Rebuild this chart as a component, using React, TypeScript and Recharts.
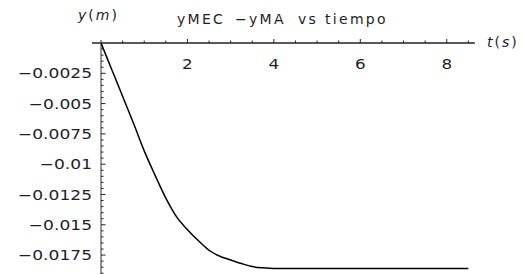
import React from 'react';
import { LineChart, Line, XAxis, YAxis, ReferenceLine } from 'recharts';

const tiempo = [0, 0.25, 0.5, 0.75, 1, 1.25, 1.5, 1.75, 2, 2.25, 2.5, 2.75, 3, 3.25, 3.5, 3.75, 4, 4.5, 5, 5.5, 6, 6.5, 7, 7.5, 8, 8.5];
const yDiff = [0, -0.0022, -0.0044, -0.0066, -0.0089, -0.0109, -0.0128, -0.01435, -0.0154, -0.0163, -0.0171, -0.0176, -0.0179, -0.0182, -0.01845, -0.01855, -0.0186, -0.0186, -0.0186, -0.0186, -0.0186, -0.0186, -0.0186, -0.0186, -0.0186, -0.0186];

const xMajorTicks = [2, 4, 6, 8];
const xTickLabels = ['2', '4', '6', '8'];
const xMinorTicks = [0.5, 1, 1.5, 2.5, 3, 3.5, 4.5, 5, 5.5, 6.5, 7, 7.5, 8.5];

const yMajorTicks = [-0.0025, -0.005, -0.0075, -0.01, -0.0125, -0.015, -0.0175];
const yTickLabels = ['\u22120.0025', '\u22120.005', '\u22120.0075', '\u22120.01', '\u22120.0125', '\u22120.015', '\u22120.0175'];
const yMinorTicks = [
  -0.0005, -0.001, -0.0015, -0.002, -0.003, -0.0035, -0.004, -0.0045,
  -0.0055, -0.006, -0.0065, -0.007, -0.008, -0.0085, -0.009, -0.0095,
  -0.0105, -0.011, -0.0115, -0.012, -0.013, -0.0135, -0.014, -0.0145,
  -0.0155, -0.016, -0.0165, -0.017, -0.018, -0.0185, -0.019,
];

const titleWords = ['yMEC', '\u2212yMA', 'vs', 'tiempo'];

const data = tiempo.map((t, i) => ({ t, y: yDiff[i] }));
const xTicks = [...xMinorTicks, ...xMajorTicks].sort((a, b) => a - b);
const yTicks = [...yMinorTicks, ...yMajorTicks].sort((a, b) => b - a);

const FONT = '"DejaVu Sans", sans-serif';
const TEXT = '#1e1e2a';

const XTick = (props: any) => {
  const { x, payload } = props;
  const idx = xMajorTicks.findIndex((v) => Math.abs(v - payload.value) < 1e-9);
  const major = idx >= 0;
  const y0 = 35;
  return (
    <g>
      <line x1={x} x2={x} y1={y0} y2={y0 - (major ? 4 : 2.5)} stroke="#222" strokeWidth={1} />
      {major && (
        <text
          transform={`translate(${x},${y0 + 26}) scale(1.2,1)`}
          x={0}
          y={0}
          textAnchor="middle"
          fontFamily={FONT}
          fontSize={14}
          fill={TEXT}
        >
          {xTickLabels[idx]}
        </text>
      )}
    </g>
  );
};

const YTick = (props: any) => {
  const { y, payload } = props;
  const idx = yMajorTicks.findIndex((v) => Math.abs(v - payload.value) < 1e-9);
  const major = idx >= 0;
  const x0 = 93;
  return (
    <g>
      <line x1={x0} x2={x0 + (major ? 4.5 : 2.5)} y1={y} y2={y} stroke="#222" strokeWidth={1} />
      {major && (
        <text
          transform={`translate(${x0 - 9},${y}) scale(1.22,1)`}
          x={0}
          y={0}
          dy="0.36em"
          textAnchor="end"
          fontFamily={FONT}
          fontSize={14}
          fill={TEXT}
        >
          {yTickLabels[idx]}
        </text>
      )}
    </g>
  );
};

export default function App() {
  return (
    <div style={{ position: 'relative', width: 516, height: 266 }}>
      <LineChart width={516} height={266} data={data} margin={{ top: 34, right: 47, bottom: 0, left: 0 }}>
        <XAxis
          dataKey="t"
          type="number"
          orientation="top"
          height={1}
          domain={[0, 8.7]}
          ticks={xTicks}
          interval={0}
          tickSize={0}
          tickMargin={0}
          axisLine={false}
          tickLine={false}
          tick={<XTick />}
          allowDataOverflow
        />
        <YAxis
          type="number"
          domain={[-0.01906, 0]}
          ticks={yTicks}
          interval={0}
          width={93}
          tickSize={0}
          tickMargin={0}
          axisLine={false}
          tickLine={false}
          tick={<YTick />}
          allowDataOverflow
        />
        <ReferenceLine
          segment={[{ x: -0.21, y: 0 }, { x: 8.65, y: 0 }]}
          ifOverflow="visible"
          stroke="#222"
          strokeWidth={1.4}
        />
        <ReferenceLine
          segment={[{ x: 0, y: 0.00025 }, { x: 0, y: -0.01906 }]}
          ifOverflow="visible"
          stroke="#333"
          strokeWidth={1}
        />
        <Line
          type="monotone"
          dataKey="y"
          stroke="#000"
          strokeWidth={1.5}
          dot={false}
          isAnimationActive={false}
        />
      </LineChart>
      <svg width={516} height={266} style={{ position: 'absolute', left: 0, top: 0, pointerEvents: 'none' }}>
        <text y={16} fontFamily={FONT} fontSize={14} fill={TEXT} style={{ letterSpacing: '2.3px' }}>
          <tspan x={169}>{titleWords[0]}</tspan>
          <tspan x={227}>{titleWords[1]}</tspan>
          <tspan x={290}>{titleWords[2]}</tspan>
          <tspan x={317}>{titleWords[3]}</tspan>
        </text>
        <text x={70} y={12} fontFamily={FONT} fontSize={14} fill={TEXT} style={{ letterSpacing: '2px' }}>
          <tspan fontStyle="italic">y</tspan>
          <tspan>(</tspan>
          <tspan fontStyle="italic">m</tspan>
          <tspan>)</tspan>
        </text>
        <text x={479} y={39} fontFamily={FONT} fontSize={14} fill={TEXT} style={{ letterSpacing: '2px' }}>
          <tspan fontStyle="italic">t</tspan>
          <tspan>(</tspan>
          <tspan fontStyle="italic">s</tspan>
          <tspan>)</tspan>
        </text>
      </svg>
    </div>
  );
}
